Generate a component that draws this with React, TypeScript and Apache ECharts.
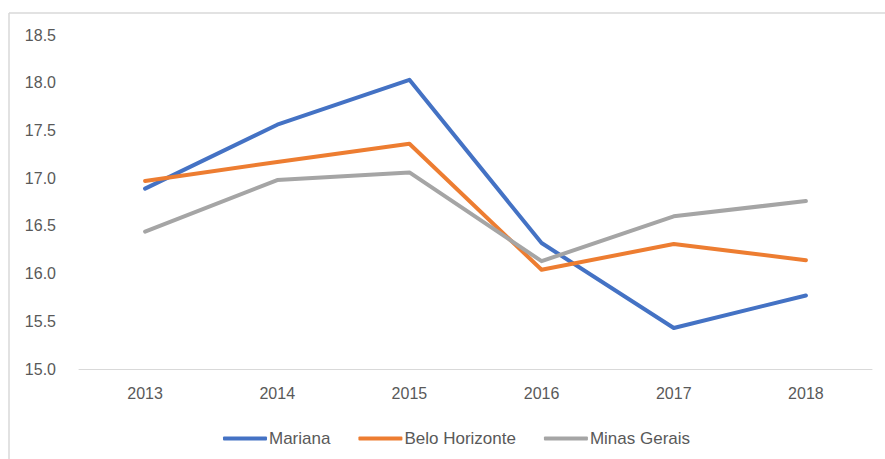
import React, { useEffect, useRef } from "react";
import * as echarts from "echarts";

const years = ["2013", "2014", "2015", "2016", "2017", "2018"];
const mariana = [16.89, 17.56, 18.03, 16.32, 15.43, 15.77];
const beloHorizonte = [16.97, 17.17, 17.36, 16.04, 16.31, 16.14];
const minasGerais = [16.44, 16.98, 17.06, 16.13, 16.6, 16.76];

export default function App() {
  const ref = useRef<HTMLDivElement>(null);
  useEffect(() => {
    if (!ref.current) return;
    const chart = echarts.init(ref.current, undefined, { renderer: "svg" });
    const font = "Liberation Sans, Arial, sans-serif";
    const mk = (name: string, data: number[], color: string) => ({
      name,
      type: "line",
      data,
      showSymbol: false,
      symbol: "none",
      lineStyle: { width: 4, color, cap: "round", join: "round" },
      itemStyle: { color },
    });
    chart.setOption({
      animation: false,
      backgroundColor: "#ffffff",
      textStyle: { fontFamily: font },
      graphic: [
        { type: "line", shape: { x1: 9, y1: 13, x2: 885, y2: 13 }, style: { stroke: "#d9d9d9", lineWidth: 1.5 } },
        { type: "line", shape: { x1: 9, y1: 13, x2: 9, y2: 459 }, style: { stroke: "#d9d9d9", lineWidth: 1.5 } },
      ],
      grid: { left: 79, right: 13, top: 35, bottom: 90, containLabel: false },
      legend: {
        top: 425,
        left: 218,
        itemWidth: 44,
        itemHeight: 4,
        itemGap: 28,
        icon: "roundRect",
        textStyle: { color: "#595959", fontSize: 17, fontFamily: font, padding: [0, 0, 0, -3] },
        data: ["Mariana", "Belo Horizonte", "Minas Gerais"],
      },
      xAxis: {
        type: "category",
        data: years,
        boundaryGap: true,
        axisLine: { lineStyle: { color: "#d9d9d9", width: 1 } },
        axisTick: { show: false },
        axisLabel: { color: "#595959", fontSize: 16, margin: 16, fontFamily: font },
      },
      yAxis: {
        type: "value",
        min: 15,
        max: 18.5,
        interval: 0.5,
        splitLine: { show: false },
        axisLine: { show: false },
        axisTick: { show: false },
        axisLabel: {
          color: "#595959",
          fontSize: 16,
          margin: 23,
          fontFamily: font,
          formatter: (v: number) => v.toFixed(1),
        },
      },
      series: [
        mk("Mariana", mariana, "#4472C4"),
        mk("Belo Horizonte", beloHorizonte, "#ED7D31"),
        mk("Minas Gerais", minasGerais, "#A5A5A5"),
      ],
    });
    return () => chart.dispose();
  }, []);
  return (
    <div
      ref={ref}
      style={{ position: "absolute", left: 0, top: 0, width: 885, height: 459 }}
    />
  );
}
